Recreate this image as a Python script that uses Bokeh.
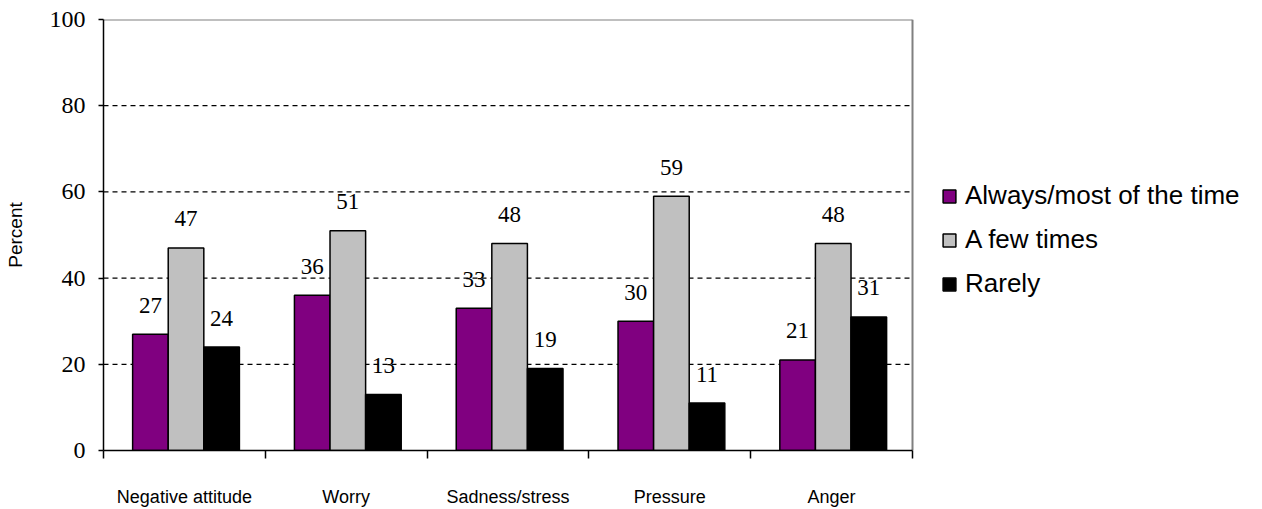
from bokeh.plotting import figure
from bokeh.models import (ColumnDataSource, FixedTicker, Legend, LegendItem, Range1d)
from bokeh.core.properties import value
from bokeh.embed import file_html
from bokeh.resources import INLINE

categories = ["Negative attitude", "Worry", "Sadness/stress", "Pressure", "Anger"]
always_most = [27, 36, 33, 30, 21]
few_times = [47, 51, 48, 59, 48]
rarely = [24, 13, 19, 11, 31]
series_names = ["Always/most of the time", "A few times", "Rarely"]
y_ticks = [0, 20, 40, 60, 80, 100]
grid_levels = [20, 40, 60, 80]

colors = ["#800080", "#C0C0C0", "#000000"]
offsets = [-0.21, 0.01, 0.23]
bar_w = 0.22

serif = "Liberation Serif"
sans = "Liberation Sans"

# The plotting frame runs to the right edge so the legend can sit beside the
# bar area; the bar area itself spans x = 0..n_cat.
n_cat = len(categories)
W_TOTAL, LEFT = 1262, 103
bar_area_px = 809
x_max = n_cat * (W_TOTAL - LEFT) / bar_area_px

p = figure(width=W_TOTAL, height=509, output_backend="svg", toolbar_location=None,
           x_range=Range1d(0, x_max), y_range=Range1d(0, 100),
           min_border_left=LEFT, min_border_right=0, min_border_top=19,
           min_border_bottom=54)
p.background_fill_color = "white"
p.border_fill_color = "white"
p.outline_line_color = None

centers = [i + 0.5 for i in range(n_cat)]

# dashed gridlines and grey box edges limited to the bar area
p.segment(x0=[0] * len(grid_levels), x1=[n_cat] * len(grid_levels),
          y0=grid_levels, y1=grid_levels, line_color="black",
          line_dash="5 4", line_width=1.2)
p.segment(x0=[0, n_cat], x1=[n_cat, n_cat], y0=[y_ticks[-1], 0],
          y1=[y_ticks[-1], y_ticks[-1]], line_color="#808080", line_width=2)

renderers = []
for vals, col, off in zip([always_most, few_times, rarely], colors, offsets):
    xs = [c + off for c in centers]
    src = ColumnDataSource(dict(x=xs, top=vals, lab=[str(v) for v in vals]))
    r = p.vbar(x="x", top="top", bottom=0, width=bar_w, source=src,
               fill_color=col, line_color="black", line_width=1.5)
    renderers.append(r)
    p.text(x="x", y="top", text="lab", source=src, text_align="center",
           text_baseline="middle", y_offset=-29, text_font=value(serif),
           text_font_size="23px", text_color="black")

# y axis
p.yaxis.ticker = FixedTicker(ticks=y_ticks)
p.yaxis.axis_line_color = "black"
p.yaxis.axis_line_width = 1.5
p.yaxis.major_tick_out = 5
p.yaxis.major_tick_in = 0
p.yaxis.major_tick_line_width = 1.5
p.yaxis.minor_tick_line_color = None
p.yaxis.major_label_text_font = serif
p.yaxis.major_label_text_font_size = "24px"
p.yaxis.major_label_text_color = "black"
p.yaxis.major_label_standoff = 13
p.yaxis.axis_label = "Percent"
p.yaxis.axis_label_text_font = sans
p.yaxis.axis_label_text_font_style = "normal"
p.yaxis.axis_label_text_font_size = "19px"
p.yaxis.axis_label_text_color = "black"
p.yaxis.axis_label_standoff = 21

# x axis: labels at category centres, ticks at category boundaries
p.xaxis.bounds = (0, n_cat)
p.xaxis.ticker = FixedTicker(ticks=centers, minor_ticks=list(range(n_cat + 1)))
p.xaxis.major_label_overrides = {c: name for c, name in zip(centers, categories)}
p.xaxis.axis_line_color = "black"
p.xaxis.axis_line_width = 1.5
p.xaxis.major_tick_line_color = None
p.xaxis.minor_tick_out = 8
p.xaxis.minor_tick_in = 0
p.xaxis.minor_tick_line_color = "black"
p.xaxis.minor_tick_line_width = 1.5
p.xaxis.major_label_text_font = sans
p.xaxis.major_label_text_font_size = "18px"
p.xaxis.major_label_text_color = "black"
p.xaxis.major_label_standoff = 28

p.xgrid.grid_line_color = None
p.ygrid.grid_line_color = None

legend = Legend(items=[LegendItem(label=n, renderers=[r]) for n, r in zip(series_names, renderers)],
                location=(838, 151), orientation="vertical")
legend.border_line_color = None
legend.background_fill_alpha = 0
legend.label_text_font = sans
legend.label_text_font_size = "26px"
legend.label_text_color = "black"
legend.glyph_width = 16
legend.glyph_height = 16
legend.label_height = 28
legend.label_standoff = 8
legend.spacing = 13
legend.padding = 0
legend.margin = 0
p.add_layout(legend, "center")

open("out.html", "w").write(file_html(p, INLINE))
